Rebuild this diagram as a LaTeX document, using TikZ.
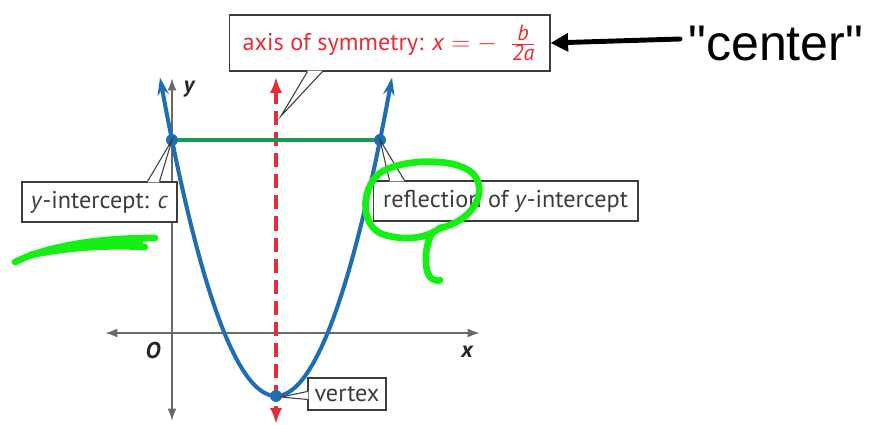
\documentclass[tikz,border=0pt]{standalone}
\usepackage{fontspec}
\setmainfont{PT Sans}
\newfontfamily\arialfont{Liberation Sans}
\usetikzlibrary{arrows.meta,calc}
\definecolor{parblue}{RGB}{30,110,180}
\definecolor{axred}{RGB}{228,45,55}
\definecolor{segreen}{RGB}{20,155,80}
\definecolor{axgray}{RGB}{105,105,105}
\definecolor{txtgray}{RGB}{60,60,60}
\definecolor{hilite}{RGB}{20,240,20}
\tikzset{
  callout/.style={draw=txtgray, line width=0.6pt, fill=white, inner sep=0pt, text=txtgray, font=\fontsize{13.8}{15}\selectfont},
  ptr/.style={draw=txtgray, line width=0.6pt, fill=white},
  axisline/.style={axgray, line width=1.1pt, {Latex[length=7pt,width=5pt]}-{Latex[length=7pt,width=5pt]}},
  dotpt/.style={circle, fill=parblue, inner sep=0pt, minimum size=6.8pt},
  scribble/.style={hilite, line width=3.8pt, line cap=round, line join=round},
}
\begin{document}
\begin{tikzpicture}[x=0.02cm,y=-0.02cm]
\useasboundingbox (0,0) rectangle (875,425);
% axes
\coordinate (yt) at (172,78);
\coordinate (yb) at (172,421);
\coordinate (xl) at (105,333);
\coordinate (xr) at (480,333);
\draw[axisline] (yb) -- (yt);
\draw[axisline] (xl) -- (xr);
\node[font=\fontsize{13}{14}\selectfont\bfseries\itshape, text=black!85] (ylab) at (189,89) {y};
\node[font=\fontsize{13}{14}\selectfont\bfseries\itshape, text=black!85] (xlab) at (467,352) {x};
\node[font=\fontsize{13}{14}\selectfont\bfseries\itshape, text=black!85] (olab) at (153,351) {O};
% axis of symmetry
\coordinate (st) at (276,77);
\coordinate (sb) at (276,424);
\draw[axred, line width=1.8pt, dash pattern=on 8pt off 4pt] (276,90) -- (276,410);
\draw[axred, line width=1.8pt, -{Latex[length=9pt,width=7pt]}] (276,92) -- (st);
\draw[axred, line width=1.8pt, -{Latex[length=9pt,width=7pt]}] (276,408) -- (sb);
% green segment and parabola
\coordinate (yint) at (172,140);
\coordinate (refl) at (380,140);
\coordinate (vert) at (276,396);
\draw[segreen, line width=2.1pt] (yint) -- (refl);
\draw[parblue, line width=2.3pt, {Stealth[length=10pt,width=6.5pt]}-{Stealth[length=10pt,width=6.5pt]}]
  plot[domain=160:392, samples=80] (\x, {396-0.02367*(\x-276)*(\x-276)});
\node[dotpt] (dA) at (yint) {};
\node[dotpt] (dB) at (refl) {};
\node[dotpt] (dV) at (vert) {};
% callout boxes
\node[callout, minimum width=6.42cm, minimum height=1.12cm, text=axred] (top) at (389.5,43)
  {axis of symmetry: \textit{x} $=-$\ \ $\frac{\mbox{\fontsize{12.5}{13}\selectfont\itshape b}}{\mbox{\fontsize{12.5}{13}\selectfont\itshape 2a}}$};
\coordinate (tipT) at (281,116);
\fill[white] ($(top.south west)+(79,-1)$) -- (tipT) -- ($(top.south west)+(94,-1)$) -- cycle;
\draw[ptr, fill=none] ($(top.south west)+(79,0)$) -- (tipT) -- ($(top.south west)+(94,0)$);

\node[callout, minimum width=3.1cm, minimum height=0.8cm] (ybox) at (99.5,202) {\textit{y}-intercept: \textit{c}};
\fill[white] ($(ybox.north west)+(126,1)$) -- (yint) -- ($(ybox.north west)+(138,1)$) -- cycle;
\draw[ptr, fill=none] ($(ybox.north west)+(126,0)$) -- (yint) -- ($(ybox.north west)+(138,0)$);

\node[callout, minimum width=5.3cm, minimum height=0.8cm] (rbox) at (505.5,201) {reflection of \textit{y}-intercept};
\fill[white] ($(rbox.north west)+(17,1)$) -- (refl) -- ($(rbox.north west)+(32,1)$) -- cycle;
\draw[ptr, fill=none] ($(rbox.north west)+(17,0)$) -- (refl) -- ($(rbox.north west)+(32,0)$);

\node[callout, minimum width=1.56cm, minimum height=0.64cm] (vbox) at (347,394) {vertex};
\coordinate (tipV) at (281,397);
\fill[white] ($(vbox.north west)+(1,14)$) -- (tipV) -- ($(vbox.north west)+(1,22)$) -- cycle;
\draw[ptr, fill=none] ($(vbox.north west)+(0,14)$) -- (tipV) -- ($(vbox.north west)+(0,22)$);
% "center" annotation
\node[font=\arialfont\fontsize{28.5}{30}\selectfont, anchor=west, inner sep=0pt] (ctr) at (688,44) {"center"};
\draw[line width=2.8pt, line cap=round, -{Triangle[length=10pt,width=10pt]}] ($(ctr.west)+(-8,-5)$) -- (top.east);
% green scribbles
\draw[scribble] (15,262) .. controls (50,245) and (100,238) .. (155,238);
\draw[scribble] (30,255) .. controls (70,247) and (110,245) .. (145,247);
\draw[scribble] (45,252) .. controls (80,246) and (110,243) .. (140,243);
\draw[scribble] (440,228) .. controls (470,222) and (488,195) .. (475,176)
  .. controls (462,158) and (410,158) .. (385,170)
  .. controls (360,182) and (358,228) .. (385,235)
  .. controls (410,242) and (430,236) .. (440,228);
\draw[scribble] (433,232) .. controls (424,245) and (424,270) .. (430,277)
  .. controls (434,281) and (438,281) .. (440,280);
\end{tikzpicture}
\end{document}
